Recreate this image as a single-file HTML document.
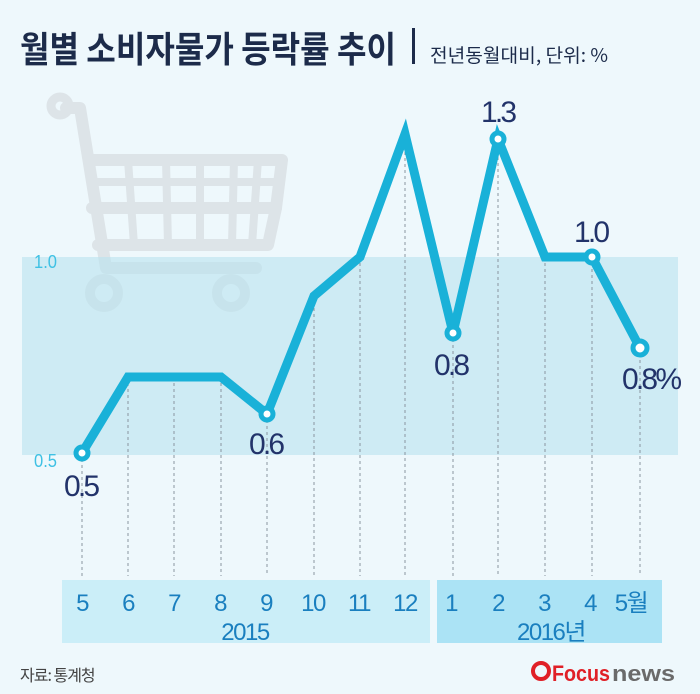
<!DOCTYPE html>
<html><head><meta charset="utf-8"><style>
body{margin:0;width:700px;height:694px;overflow:hidden;background:#eef8fc;font-family:"Liberation Sans","Noto Sans CJK KR",sans-serif}
</style></head><body>
<svg width="700" height="694" xmlns="http://www.w3.org/2000/svg" style="position:absolute;left:0;top:0">
<rect width="700" height="694" fill="#eef8fc"/>
<text x="20" y="62" font-size="36" font-weight="bold" fill="#1c2b4a" font-family="Noto Sans CJK KR,sans-serif" textLength="376" lengthAdjust="spacingAndGlyphs">월별 소비자물가 등락률 추이</text>
<rect x="412" y="28" width="3" height="36" fill="#1c2b4a"/>
<text x="430" y="62" font-size="19" fill="#1c2b4a" font-family="Noto Sans CJK KR,sans-serif" textLength="178" lengthAdjust="spacingAndGlyphs">전년동월대비, 단위: %</text>
<!-- cart -->
<g fill="none" stroke="#dde4e8" stroke-linecap="round" stroke-linejoin="round">
<circle cx="60" cy="106" r="9" stroke-width="9"/>
<path d="M66 108 L80 108 L106 268 L256 268" stroke-width="12"/>
<path d="M92 208 L276 208 L268 245 L98 245" stroke-width="12"/>
<path d="M93 160 L282 160 L276 208" stroke-width="12"/>
<path d="M96 182 L280 182 M128 160 L134 245 M166 160 L168 245 M200 160 L200 245 M234 160 L232 245 M258 160 L252 245" stroke-width="8"/>
<circle cx="104" cy="293" r="14" stroke-width="10"/>
<circle cx="231" cy="293" r="14" stroke-width="10"/>
</g>
<rect x="22" y="257" width="656" height="198" fill="#b9e2ef" opacity="0.6"/>
<text x="34" y="268" font-size="18" fill="#3fc1e4" textLength="23" lengthAdjust="spacingAndGlyphs">1.0</text>
<text x="34" y="467" font-size="18" fill="#3fc1e4" textLength="23" lengthAdjust="spacingAndGlyphs">0.5</text>
<g stroke="#8a96a0" stroke-width="1" stroke-dasharray="3,3">
<line x1="82" y1="453" x2="82" y2="576"/><line x1="128" y1="377" x2="128" y2="576"/><line x1="174" y1="377" x2="174" y2="576"/><line x1="221" y1="377" x2="221" y2="576"/><line x1="267" y1="414" x2="267" y2="576"/><line x1="314" y1="296" x2="314" y2="576"/><line x1="360" y1="257" x2="360" y2="576"/><line x1="405" y1="134" x2="405" y2="576"/><line x1="453" y1="333" x2="453" y2="576"/><line x1="498" y1="139" x2="498" y2="576"/><line x1="545" y1="257" x2="545" y2="576"/><line x1="592" y1="257" x2="592" y2="576"/><line x1="640" y1="348" x2="640" y2="576"/>
</g>
<polyline points="82,453 128,377 174,377 221,377 267,414 314,296 360,257 405,134 453,333 498,139 545,257 592,257 640,348" fill="none" stroke="#19b1d8" stroke-width="9" stroke-linejoin="miter"/>
<g fill="#fff" stroke="#19b1d8" stroke-width="5">
<circle cx="82" cy="453" r="6"/><circle cx="267" cy="414" r="6"/><circle cx="453" cy="333" r="6"/><circle cx="498" cy="139" r="6"/><circle cx="592" cy="257" r="6"/><circle cx="640" cy="348" r="7"/>
</g>
<g font-size="30" fill="#22336a" lengthAdjust="spacingAndGlyphs">
<text x="64" y="496" textLength="36">0.5</text><text x="249" y="454" textLength="36">0.6</text><text x="434" y="375" textLength="36">0.8</text><text x="481" y="122" textLength="36">1.3</text><text x="574" y="242" textLength="36">1.0</text><text x="622" y="389" textLength="60">0.8%</text>
</g>
<rect x="62" y="580" width="368" height="63" fill="#cbeef8"/>
<rect x="437" y="580" width="225" height="63" fill="#abe3f5"/>
<g font-size="24" fill="#1a7fbf" text-anchor="middle" letter-spacing="-1.5">
<text x="82" y="611">5</text><text x="128" y="611">6</text><text x="174" y="611">7</text><text x="220" y="611">8</text><text x="266" y="611">9</text><text x="313" y="611">10</text><text x="359" y="611">11</text><text x="405" y="611">12</text><text x="451" y="611">1</text><text x="498" y="611">2</text><text x="544" y="611">3</text><text x="590" y="611">4</text><text x="631" y="611" font-family="Liberation Sans,Noto Sans CJK KR,sans-serif">5월</text>
<text x="245" y="640">2015</text><text x="551" y="640" font-family="Liberation Sans,Noto Sans CJK KR,sans-serif">2016년</text>
</g>
<text x="20" y="681" font-size="16" fill="#444" font-family="Noto Sans CJK KR,sans-serif" letter-spacing="-1">자료: 통계청</text>
<circle cx="541" cy="671" r="8" fill="none" stroke="#e02027" stroke-width="4"/>
<text x="552" y="681" font-size="22" font-weight="bold" fill="#e02027" textLength="58" lengthAdjust="spacingAndGlyphs">Focus</text>
<text x="612" y="681" font-size="22" font-weight="bold" fill="#6a6a6a" textLength="63" lengthAdjust="spacingAndGlyphs">news</text>
</svg>
</body></html>
